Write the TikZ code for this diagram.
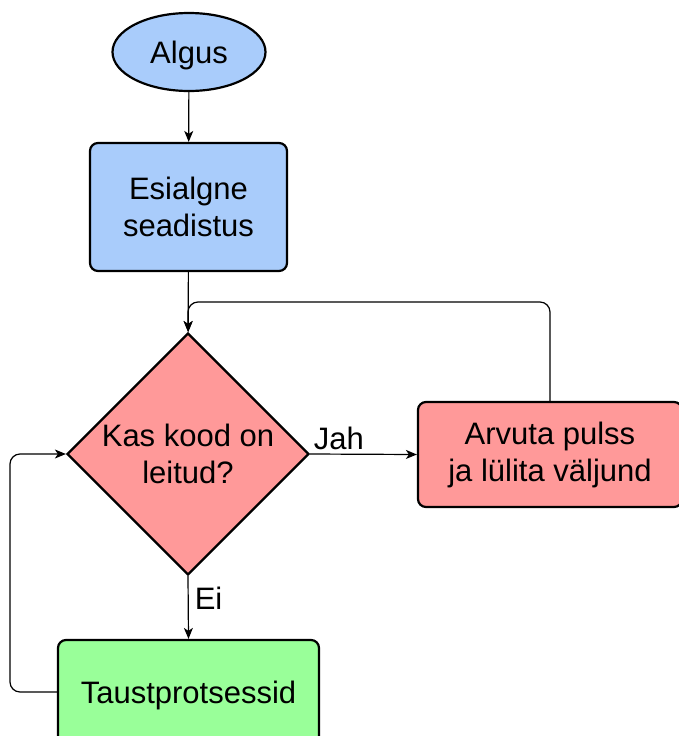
\documentclass[tikz,border=0pt]{standalone}
\usepackage{fontspec}
\setmainfont{Liberation Sans}
\usetikzlibrary{shapes.geometric,arrows.meta}
\definecolor{cblue}{HTML}{A9CCFB}
\definecolor{cred}{HTML}{FF9999}
\definecolor{cgreen}{HTML}{99FF99}
\begin{document}
\begin{tikzpicture}[x=1pt,y=-1pt,
  every node/.style={font=\fontsize{31}{37}\selectfont, align=center, inner sep=0pt},
  boxnode/.style={draw=black, line width=2.2pt, rounded corners=8pt},
  conn/.style={draw=black, line width=1.2pt},
  arr/.style={conn, -{Stealth[length=11pt,width=9pt,inset=3pt]}}]
\useasboundingbox (0,0) rectangle (678,736);
\node[ellipse, draw=black, line width=2.2pt, fill=cblue, minimum width=153pt, minimum height=78pt, text depth=0pt] (start) at (189,52) {Algus};
\node[boxnode, fill=cblue, minimum width=197pt, minimum height=128pt] (init) at (188.5,207) {Esialgne\\seadistus};
\node[diamond, draw=black, line width=2.2pt, fill=cred, minimum width=242pt, minimum height=242pt] (dec) at (188,454) {Kas kood on\\leitud?};
\node[boxnode, fill=cred, minimum width=264pt, minimum height=105pt] (act) at (550,454.5) {Arvuta pulss\\ja lülita väljund};
\node[boxnode, fill=cgreen, minimum width=261pt, minimum height=104pt, text depth=0pt] (bg) at (188.5,692) {Taustprotsessid};
\coordinate (top) at (188,302);
\coordinate (left) at (10,454);
\draw[arr] (start) -- (init);
\draw[arr] (init) -- (dec);
\draw[arr, rounded corners=10pt] (act.north) |- (top) -- (dec.north);
\draw[arr] (dec.east) -- node[pos=0.27, above, inner sep=4pt] {Jah} (act.west);
\draw[arr] (dec.south) -- node[pos=0.36, right, inner sep=6pt] {Ei} (bg.north);
\draw[arr, rounded corners=10pt] (bg.west) -| (left) -- (dec.west);
\end{tikzpicture}
\end{document}
